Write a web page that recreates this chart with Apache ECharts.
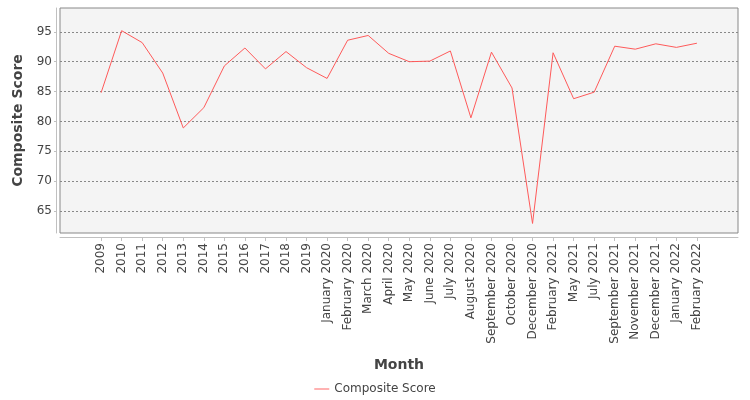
<!DOCTYPE html>
<html>
<head>
<meta charset="utf-8">
<script src="https://cdn.jsdelivr.net/npm/echarts@6/dist/echarts.min.js"></script>
<style>
  html, body { margin: 0; padding: 0; background: #fff; }
  #main { width: 750px; height: 400px; }
</style>
</head>
<body>
<div id="main"></div>
<script>
// categories on the x axis
var months = ['2009', '2010', '2011', '2012', '2013', '2014', '2015', '2016', '2017', '2018', '2019',
	'January 2020', 'February 2020', 'March 2020', 'April 2020', 'May 2020', 'June 2020', 'July 2020',
	'August 2020', 'September 2020', 'October 2020', 'December 2020', 'February 2021', 'May 2021',
	'July 2021', 'September 2021', 'November 2021', 'December 2021', 'January 2022', 'February 2022'];
// composite score per month
var scores = [84.8, 95.2, 93.2, 88.1, 78.9, 82.3, 89.3, 92.3, 88.8, 91.7, 89.0,
	87.2, 93.6, 94.4, 91.4, 90.0, 90.1, 91.8, 80.6, 91.6, 85.6, 62.9, 91.5, 83.8,
	84.9, 92.6, 92.1, 93.0, 92.4, 93.1];
var yTicks = [65, 70, 75, 80, 85, 90, 95];

var font = 'DejaVu Sans';
var idx = months.map(function (m, i) { return i; });

var chart = echarts.init(document.getElementById('main'));
chart.setOption({
	animation: false,
	textStyle: { fontFamily: font },
	grid: {
		left: 60, right: 12, top: 8, bottom: 167,
		show: true,
		backgroundColor: '#f4f4f4',
		borderColor: '#888',
		borderWidth: 1
	},
	legend: {
		bottom: 0,
		icon: 'path://M0,0 L16,0 L16,1 L0,1 Z',
		itemWidth: 15, itemHeight: 1,
		itemGap: 4,
		textStyle: { fontFamily: font, fontSize: 12, color: '#444' },
		data: ['Composite Score']
	},
	xAxis: {
		type: 'value',
		min: -2, max: 31,
		offset: 4,
		name: 'Month',
		nameLocation: 'middle',
		nameGap: 121,
		nameTextStyle: { fontFamily: font, fontSize: 14, fontWeight: 'bold', color: '#444' },
		axisLine: { show: true, onZero: false, lineStyle: { color: '#c0c0c0' } },
		axisTick: { show: true, customValues: idx, length: 4, lineStyle: { color: '#c0c0c0' } },
		axisLabel: {
			customValues: idx,
			rotate: 90,
			margin: 6,
			fontSize: 12,
			color: '#444',
			formatter: function (v) { return months[Math.round(v)] || ''; }
		},
		splitLine: { show: false }
	},
	yAxis: {
		type: 'value',
		min: 61.3, max: 99,
		offset: 4,
		name: 'Composite Score',
		nameLocation: 'middle',
		nameGap: 30,
		nameTextStyle: { fontFamily: font, fontSize: 14, fontWeight: 'bold', color: '#444' },
		axisLine: { show: true, onZero: false, lineStyle: { color: '#c0c0c0' } },
		axisTick: { show: true, customValues: yTicks, length: 2, lineStyle: { color: '#c0c0c0' } },
		axisLabel: { customValues: yTicks, fontSize: 12, color: '#444', margin: 4 },
		splitLine: { show: true, lineStyle: { color: '#888', type: [2, 2], width: 1 } }
	},
	series: [{
		name: 'Composite Score',
		type: 'line',
		symbol: 'none',
		lineStyle: { color: '#ff5a5a', width: 1 },
		itemStyle: { color: '#ff5a5a' },
		data: scores.map(function (s, i) { return [i, s]; })
	}]
});
</script>
</body>
</html>
